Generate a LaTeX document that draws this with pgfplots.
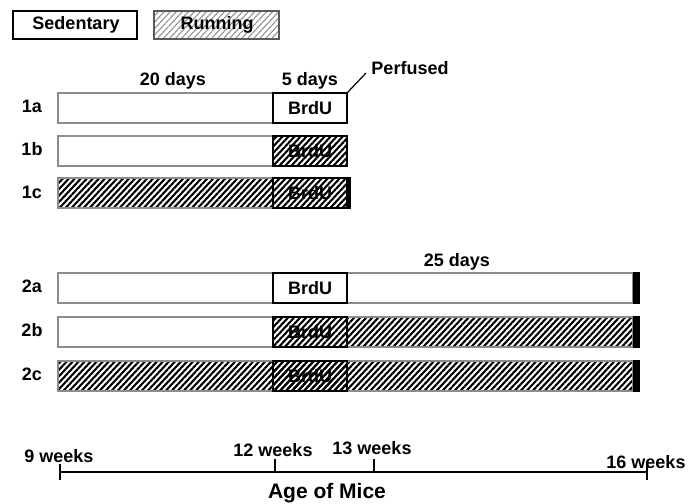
\documentclass[border=0pt]{standalone}
\usepackage{fontspec}
\setmainfont{Liberation Sans}
\usepackage{pgfplots}
\pgfplotsset{compat=1.18}
\usetikzlibrary{patterns.meta}

\tikzset{
  hatch/.style={pattern={Lines[angle=47,distance=4.4bp,line width=2.1bp]}, pattern color=black},
  lighthatch/.style={pattern={Lines[angle=47,distance=4.4bp,line width=1bp]}, pattern color=black!45},
  gbar/.style={draw=black!45, line width=2.4bp, line join=miter},
  brdu/.style={draw=black, line width=2bp, line join=miter},
  endcap/.style={fill=black, draw=none},
  lab/.style={font=\fontsize{18bp}{20bp}\selectfont\bfseries},
}

% rectangle from x1 to x2, y1 to y2 (picture pixels, y downwards)
\newcommand{\seg}[5]{\addplot[#5] coordinates {(#1,#3) (#2,#3) (#2,#4) (#1,#4)} --cycle;}

\begin{document}
\begin{tikzpicture}
\useasboundingbox (0,0) rectangle (698bp,504bp);
\begin{axis}[
  scale only axis, width=698bp, height=504bp,
  xmin=0, xmax=698, ymin=0, ymax=504, y dir=reverse,
  hide axis, clip=false,
]
% legend boxes
\seg{13}{137}{11}{39}{fill=white, draw=black, line width=2bp}
\seg{154}{279}{11}{39}{lighthatch, draw=black!65, line width=2bp}

% group 1 (perfused after 25 days)
\seg{58}{273}{93}{123}{gbar, fill=white}
\seg{273}{347}{93}{123}{brdu, fill=white}
\seg{58}{273}{136}{166}{gbar, fill=white}
\seg{273}{347}{136}{166}{brdu, hatch}
\seg{58}{273}{178}{208}{gbar, hatch}
\seg{273}{347}{178}{208}{brdu, hatch}
\seg{346}{351}{177}{209}{endcap}

% group 2 (perfused after 50 days)
\seg{58}{633}{273}{303}{gbar, fill=white}
\seg{273}{347}{273}{303}{brdu, fill=white}
\seg{633}{640}{272}{304}{endcap}
\seg{58}{273}{317}{347}{gbar, fill=white}
\seg{347}{633}{317}{347}{gbar, hatch}
\seg{273}{347}{317}{347}{brdu, hatch}
\seg{633}{640}{316}{348}{endcap}
\seg{58}{633}{361}{391}{gbar, hatch}
\seg{273}{347}{361}{391}{brdu, hatch}
\seg{633}{640}{360}{392}{endcap}

% perfused pointer
\addplot[black, line width=1.2bp] coordinates {(347,93) (366,73)};

% age timeline
\addplot[black, line width=2.6bp] coordinates {(60,472) (647,472)};
\addplot[black, line width=2bp] coordinates {(60,464) (60,480)};
\addplot[black, line width=2bp] coordinates {(275,459) (275,472)};
\addplot[black, line width=2bp] coordinates {(374,459) (374,472)};
\addplot[black, line width=2bp] coordinates {(647,464) (647,480)};

% texts
\node[lab] at (axis cs:76,25) {Sedentary};
\node[lab] at (axis cs:217,25) {Running};
\node[lab] at (axis cs:173,81) {20 days};
\node[lab] at (axis cs:310,81) {5 days};
\node[lab] at (axis cs:410,68) {Perfused};
\node[lab] at (axis cs:457,262) {25 days};
\node[lab] at (axis cs:310,108) {BrdU};
\node[lab] at (axis cs:310,151) {BrdU};
\node[lab] at (axis cs:310,193) {BrdU};
\node[lab] at (axis cs:310,288) {BrdU};
\node[lab] at (axis cs:310,332) {BrdU};
\node[lab] at (axis cs:310,376) {BrdU};
\node[lab] at (axis cs:32,106) {1a};
\node[lab] at (axis cs:32,149) {1b};
\node[lab] at (axis cs:32,192) {1c};
\node[lab] at (axis cs:32,286) {2a};
\node[lab] at (axis cs:32,330) {2b};
\node[lab] at (axis cs:32,374) {2c};
\node[lab] at (axis cs:59,456) {9 weeks};
\node[lab] at (axis cs:273,450) {12 weeks};
\node[lab] at (axis cs:372,448) {13 weeks};
\node[lab] at (axis cs:646,462) {16 weeks};
\node[font=\fontsize{21bp}{24bp}\selectfont\bfseries] at (axis cs:327,493) {Age of Mice};
\end{axis}
\end{tikzpicture}
\end{document}
